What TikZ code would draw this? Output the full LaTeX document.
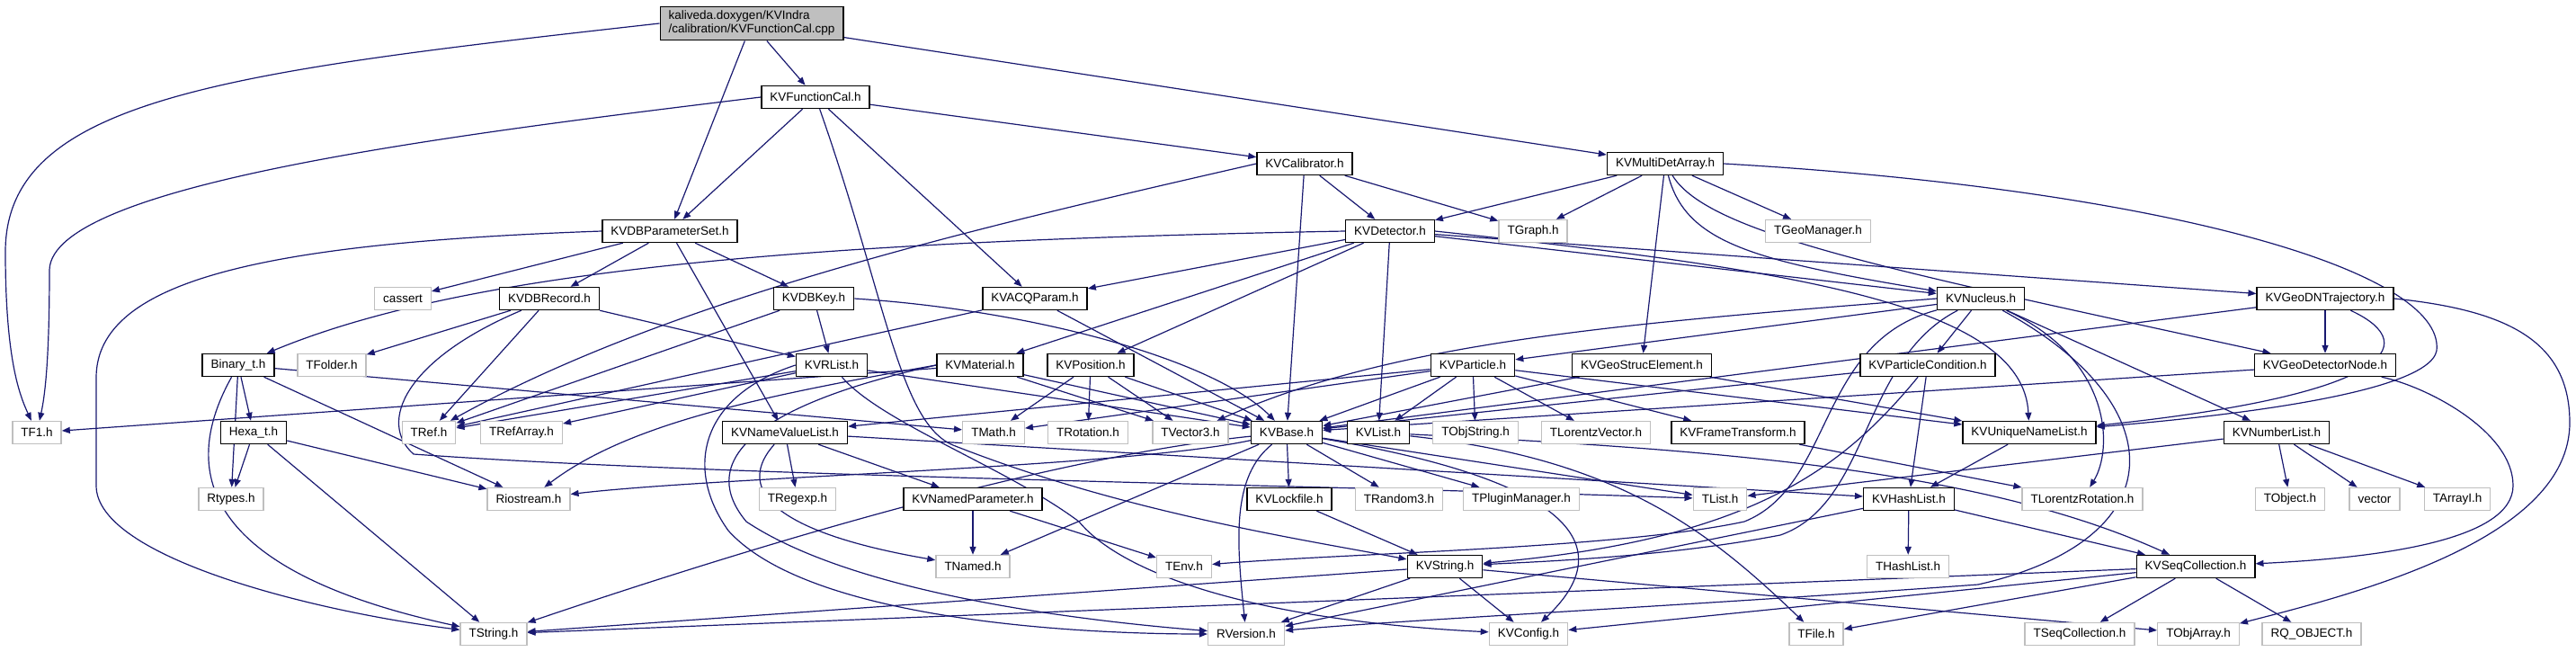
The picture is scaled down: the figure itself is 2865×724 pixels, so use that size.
\documentclass[tikz,border=0pt]{standalone}
\usepackage{fontspec}
\setmainfont{Liberation Sans}
\usepackage{tikz}
\usetikzlibrary{arrows.meta}
\definecolor{edgeblue}{RGB}{25,25,112}
\definecolor{extgray}{RGB}{191,191,191}
\pgfdeclarelayer{bg}
\pgfsetlayers{bg,main}
\tikzset{
  box/.style={draw, line width=1.4pt, fill=white, font=\fontsize{13.5}{15}\selectfont,
    inner xsep=9.5pt, inner ysep=0pt, minimum height=25pt},
  doc/.style={box, draw=black},
  ext/.style={box, draw=extgray},
  edge/.style={->, draw=edgeblue, line width=1.2pt},
  >={Triangle[length=9pt,width=7pt]}
}

\begin{document}
\begin{tikzpicture}[x=1pt,y=-1pt]
\useasboundingbox (0,0) rectangle (2865,724);

\node[doc, fill=extgray, align=left, inner ysep=5pt] (root) at (836,26)
  {kaliveda.doxygen/KVIndra\\/calibration/KVFunctionCal.cpp};

% headers of the project
\foreach \n/\x/\y/\t in {kvfc/907/108/KVFunctionCal.h, kvdbps/745/257/KVDBParameterSet.h,
  kvcal/1451/182/KVCalibrator.h, kvmda/1852/182/KVMultiDetArray.h, kvdet/1546/257/KVDetector.h,
  kvdbrec/611/332/KVDBRecord.h, kvdbkey/905/332/KVDBKey.h, kvacq/1151/332/KVACQParam.h,
  kvnuc/2203/332/KVNucleus.h, kvgdnt/2586/332/KVGeoDNTrajectory.h,
  binaryt/265/406/Binary\_t.h, kvrlist/925/406/KVRList.h, kvmat/1090/406/KVMaterial.h,
  kvpos/1213/406/KVPosition.h, kvpart/1638/406/KVParticle.h, kvgse/1826/406/KVGeoStrucElement.h,
  kvpc/2144/406/KVParticleCondition.h, kvgdn/2586/406/KVGeoDetectorNode.h,
  hexat/282/481/Hexa\_t.h, kvnvl/873/481/KVNameValueList.h, kvbase/1431/481/KVBase.h,
  kvlist/1533/481/KVList.h, kvft/1933/481/KVFrameTransform.h, kvunl/2257/481/KVUniqueNameList.h,
  kvnl/2532/481/KVNumberList.h, kvnp/1082/555/KVNamedParameter.h, kvlock/1434/555/KVLockfile.h,
  kvhl/2123/555/KVHashList.h, kvstr/1607/630/KVString.h, kvseq/2442/630/KVSeqCollection.h}
  \node[doc] (\n) at (\x,\y) {\t};

% external headers
\foreach \n/\x/\y/\t in {tf1/41/481/TF1.h, cassert/448/332/cassert, tgraph/1705/257/TGraph.h,
  tgeo/2022/257/TGeoManager.h, tfolder/369/406/TFolder.h, tref/477/481/TRef.h,
  trefarr/580/481/TRefArray.h, tmath/1105/481/TMath.h, trot/1210/481/TRotation.h,
  tvec/1324/481/TVector3.h, tobjstr/1641/481/TObjString.h, tlv/1775/481/TLorentzVector.h,
  rtypes/257/555/Rtypes.h, riostream/588/555/Riostream.h, tregexp/887/555/TRegexp.h,
  trandom/1556/555/TRandom3.h, tplugin/1692/555/TPluginManager.h, tlist/1913/555/TList.h,
  tlr/2316/555/TLorentzRotation.h, tobject/2547/555/TObject.h, vector/2641/555/vector,
  tarrayi/2733/555/TArrayI.h, tnamed/1082/630/TNamed.h, tenv/1317/630/TEnv.h,
  thl/2122/630/THashList.h, tstring/549/705/TString.h, rversion/1386/705/RVersion.h,
  kvconfig/1700/705/KVConfig.h, tfile/2020/705/TFile.h, tseqc/2313/705/TSeqCollection.h,
  tobjarr/2445/705/TObjArray.h, rqobj/2571/705/RQ\_OBJECT.h}
  \node[ext] (\n) at (\x,\y) {\t};

\begin{pgfonlayer}{bg}
\foreach \a/\b in {root/kvfc, root/kvdbps, root/kvmda,
  kvfc/kvdbps, kvfc/kvcal, kvfc/kvacq,
  kvdbps/cassert, kvdbps/kvdbrec, kvdbps/kvdbkey, kvdbps/kvnvl,
  kvcal/kvbase, kvcal/kvdet, kvcal/tgraph,
  kvmda/kvdet, kvmda/tgraph, kvmda/tgeo, kvmda/kvgse,
  kvdet/kvacq, kvdet/kvmat, kvdet/kvpos, kvdet/kvlist, kvdet/kvnuc, kvdet/kvgdnt,
  kvdbrec/tfolder, kvdbrec/tref, kvdbrec/kvrlist, kvdbkey/tref, kvdbkey/kvrlist,
  kvacq/tref, kvacq/kvbase, kvnuc/kvpart, kvnuc/kvpc, kvnuc/kvnl,
  kvgdnt/kvgdn, kvgdnt/kvbase,
  binaryt/hexat, binaryt/rtypes, binaryt/riostream, binaryt/tmath,
  kvrlist/tref, kvrlist/trefarr, kvrlist/kvbase,
  kvmat/tf1, kvmat/tvec, kvmat/kvbase,
  kvpos/tmath, kvpos/trot, kvpos/tvec, kvpos/kvbase,
  kvpart/kvbase, kvpart/kvlist, kvpart/tobjstr, kvpart/tlv, kvpart/kvft, kvpart/kvunl,
  kvpart/tmath, kvpart/kvnvl,
  kvgse/kvbase, kvgse/kvunl, kvpc/kvbase, kvpc/kvhl, kvgdn/kvbase,
  hexat/rtypes, hexat/riostream, hexat/tstring,
  kvnvl/kvnp, kvnvl/tregexp, kvnvl/kvhl,
  kvbase/kvlock, kvbase/trandom, kvbase/tplugin, kvbase/tlist, kvbase/tnamed,
  kvft/tlr, kvunl/kvhl,
  kvnl/tlist, kvnl/tobject, kvnl/vector, kvnl/tarrayi,
  kvnp/tnamed, kvnp/tenv, kvlock/kvstr,
  kvhl/thl, kvhl/kvseq, kvhl/rversion,
  kvstr/tstring, kvstr/rversion, kvstr/kvconfig, kvstr/tobjarr,
  kvseq/tseqc, kvseq/rqobj, kvseq/tfile, kvseq/tstring, kvseq/kvconfig}
  \draw[edge] (\a) -- (\b);

% bent connectors
\draw[edge] (root.west) .. controls (250,80) and (6,110) .. (6,280) .. controls (6,400) and (22,440) .. (tf1);
\draw[edge] (kvfc.west) .. controls (500,150) and (58,205) .. (55,300) .. controls (55,400) and (50,440) .. (tf1);
\draw[edge] (kvdbps.west) .. controls (300,270) and (107,310) .. (107,420) -- (107,540) .. controls (107,620) and (350,680) .. (tstring);
\draw[edge] (kvdbrec) .. controls (450,400) and (420,470) .. (460,505) .. controls (800,530) and (1500,540) .. (tlist);
\draw[edge] (kvdet.west) .. controls (900,268) and (520,300) .. (binaryt);
\draw[edge] (kvfc) .. controls (985,330) and (1000,470) .. (1060,495) .. controls (1250,570) and (1450,600) .. (kvstr);
\draw[edge] (kvrlist) .. controls (980,470) and (1120,520) .. (1200,580) .. controls (1250,640) and (1400,690) .. (kvconfig);
\draw[edge] (kvrlist.west) .. controls (780,440) and (760,520) .. (810,590) .. controls (900,690) and (1200,705) .. (rversion);
\draw[edge] (kvmat.west) .. controls (820,455) and (780,520) .. (830,580) .. controls (950,660) and (1200,690) .. (rversion);
\draw[edge] (kvmat.west) .. controls (850,440) and (700,470) .. (riostream);
\draw[edge] (kvnvl) .. controls (820,540) and (850,590) .. (tnamed);
\draw[edge] (kvbase) .. controls (1780,540) and (1790,620) .. (kvconfig);
\draw[edge] (kvbase) .. controls (1370,530) and (1375,600) .. (rversion);
\draw[edge] (kvbase) .. controls (1150,510) and (800,620) .. (tstring);
\draw[edge] (kvbase) .. controls (1250,520) and (800,530) .. (riostream);
\draw[edge] (kvdbkey.east) .. controls (1150,345) and (1350,400) .. (kvbase);
\draw[edge] (kvcal.west) .. controls (1100,250) and (750,330) .. (tref);
\draw[edge] (kvmda.east) .. controls (2400,210) and (2720,300) .. (2710,390) .. controls (2700,440) and (2450,465) .. (kvunl);
\draw[edge] (kvgdnt) .. controls (2700,385) and (2650,440) .. (kvunl);
\draw[edge] (kvgdnt.east) .. controls (2790,345) and (2858,380) .. (2858,470) .. controls (2858,600) and (2620,660) .. (tobjarr);
\draw[edge] (kvgdn) .. controls (2700,430) and (2795,480) .. (2795,540) .. controls (2795,600) and (2650,620) .. (kvseq);
\draw[edge] (kvnuc) .. controls (2020,380) and (2040,540) .. (1940,580) .. controls (1800,610) and (1500,615) .. (tenv);
\draw[edge] (kvnuc) .. controls (2070,400) and (2080,560) .. (1980,595) .. controls (1850,620) and (1700,625) .. (kvstr);
\draw[edge] (kvnuc) .. controls (2420,450) and (2420,600) .. (2200,650) .. controls (1900,672) and (1550,690) .. (rversion);
\draw[edge] (kvnuc) .. controls (2350,400) and (2350,500) .. (tlr);
\draw[edge] (kvnuc.west) .. controls (1800,360) and (1550,380) .. (tvec);
\draw[edge] (kvpc) .. controls (2050,520) and (1950,600) .. (kvstr);
\draw[edge] (kvmda) .. controls (1875,270) and (1950,290) .. (kvnuc);
\draw[edge] (kvmda) .. controls (1900,260) and (2100,300) .. (kvgdn);
\draw[edge] (kvdet.east) .. controls (2000,300) and (2250,340) .. (kvunl);
\draw[edge] (kvlist) .. controls (1900,500) and (2200,520) .. (kvseq);
\draw[edge] (kvlist) .. controls (1800,510) and (1900,590) .. (tfile);
\draw[edge] (binaryt) .. controls (190,540) and (250,640) .. (tstring);
\end{pgfonlayer}
\end{tikzpicture}
\end{document}
